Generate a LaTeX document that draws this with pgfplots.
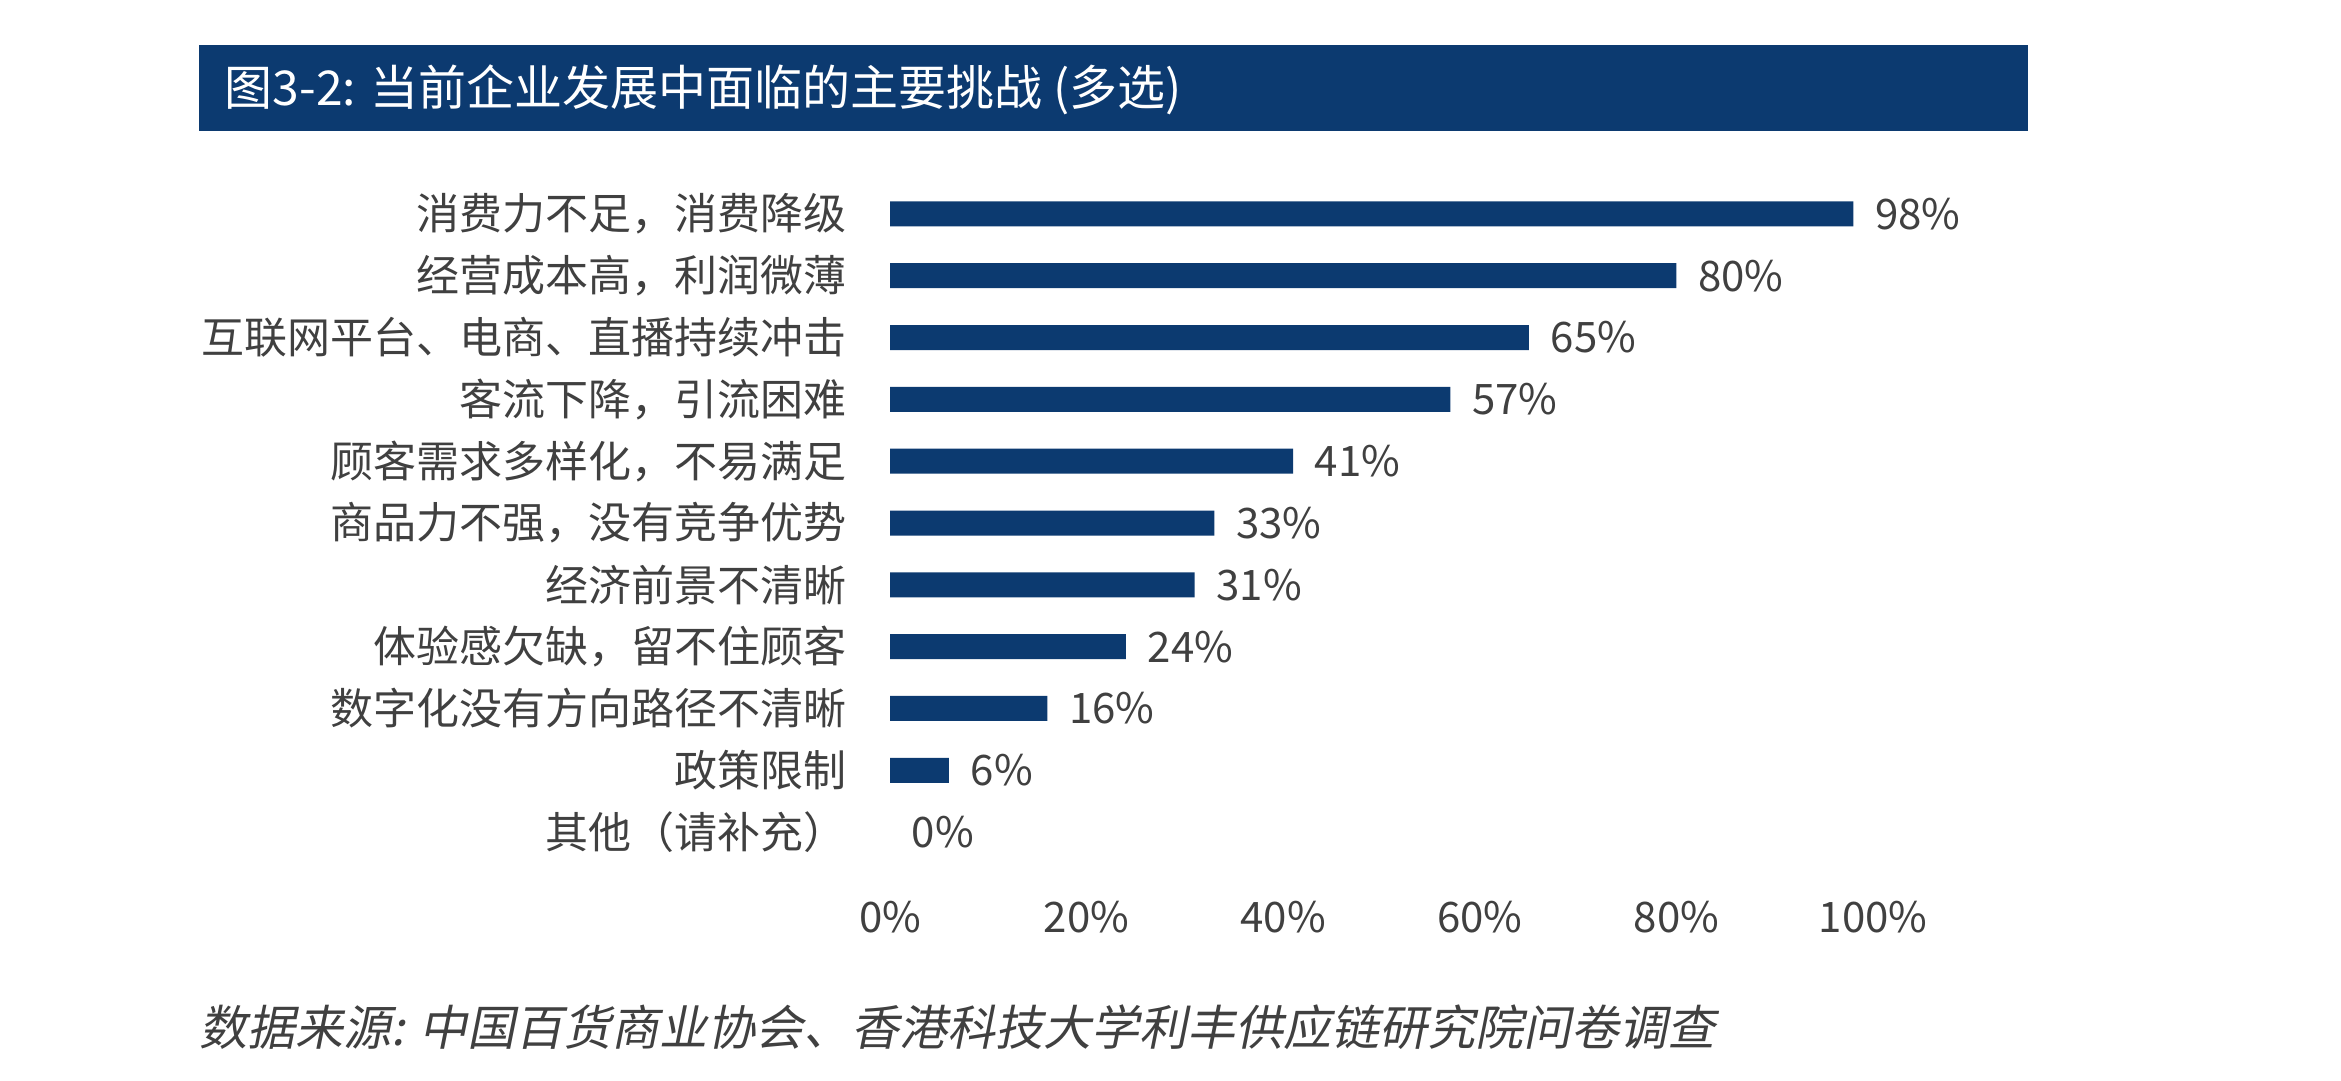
\documentclass[border=0pt]{standalone}
\usepackage{fontspec}
\setmainfont{Noto Sans CJK SC}
\newfontfamily\slantfont[FakeSlant=0.2]{Noto Sans CJK SC}
\usepackage{pgfplots}
\pgfplotsset{compat=1.18}
\definecolor{navy}{RGB}{12,58,112}
\definecolor{txt}{RGB}{64,64,64}
\begin{document}
\begin{tikzpicture}
\path[use as bounding box] (0,0) rectangle (585.25pt,270pt);
% title bar
\fill[navy] (49.75pt,237.25pt) rectangle (507pt,258.75pt);
\node[anchor=west, text=white, font=\fontsize{12pt}{14pt}\selectfont, inner sep=0pt] at (56pt,247.6pt) {图3-2: 当前企业发展中面临的主要挑战 (多选)};
\begin{axis}[
  at={(222.5pt,54.25pt)}, anchor=south west,
  scale only axis, width=245.75pt, height=170pt,
  xmin=0, xmax=100, ymin=-0.5, ymax=10.5, y dir=reverse,
  axis line style={draw=none}, major tick length=0pt,
  xtick={0,20,40,60,80,100},
  xticklabel={\pgfmathprintnumber{\tick}\%},
  /pgf/number format/assume math mode=true,
  ytick={0,1,2,3,4,5,6,7,8,9,10},
  yticklabels={{消费力不足，消费降级},{经营成本高，利润微薄},{互联网平台、电商、直播持续冲击},{客流下降，引流困难},{顾客需求多样化，不易满足},{商品力不强，没有竞争优势},{经济前景不清晰},{体验感欠缺，留不住顾客},{数字化没有方向路径不清晰},{政策限制},{其他（请补充）}},
  every y tick label/.append style={anchor=east, inner sep=0pt, xshift=-10.75pt, text=txt, font=\fontsize{10.75pt}{12pt}\selectfont},
  every x tick label/.append style={anchor=center, inner sep=0pt, yshift=-13.5pt, text=txt, font=\fontsize{10.5pt}{12pt}\selectfont},
  xbar, bar width=6.25pt, bar shift=0pt,
  nodes near coords={\pgfmathprintnumber{\pgfplotspointmeta}\%},
  every node near coord/.append style={anchor=west, inner sep=0pt, xshift=5.25pt, text=txt, font=\fontsize{10.5pt}{12pt}\selectfont},
  clip=false,
]
\addplot[fill=navy, draw=none] coordinates {
(98,0) (80,1) (65,2) (57,3) (41,4) (33,5) (31,6) (24,7) (16,8) (6,9)};
\addplot[fill=none, draw=none] coordinates {(0,10)};
\end{axis}
\node[anchor=west, text=txt, font=\fontsize{12pt}{14pt}\slantfont, inner sep=0pt] at (49.75pt,13.25pt) {数据来源: 中国百货商业协会、香港科技大学利丰供应链研究院问卷调查};
\end{tikzpicture}
\end{document}
